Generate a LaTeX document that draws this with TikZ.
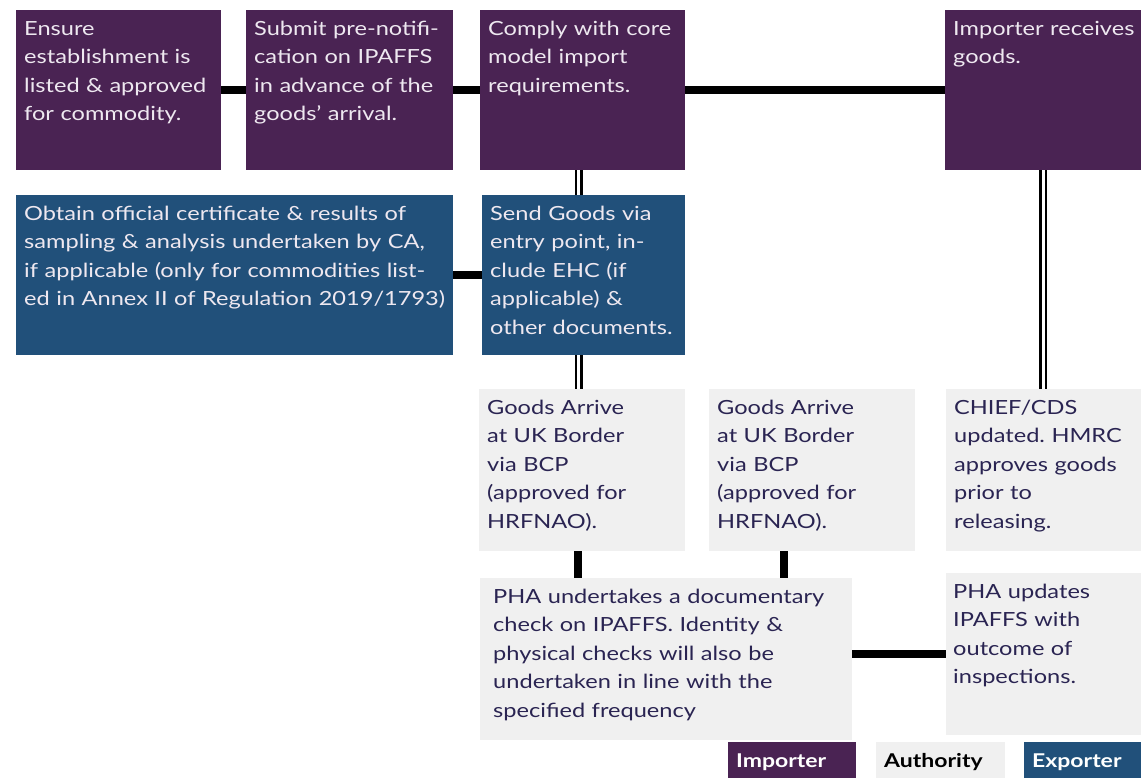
\documentclass[tikz,border=0pt]{standalone}
\usepackage{fontspec}
\setmainfont{Lato}[FakeStretch=1.21]
\frenchspacing
\usetikzlibrary{positioning,calc}
\definecolor{importer}{HTML}{4A2353}
\definecolor{exporter}{HTML}{21507A}
\definecolor{authority}{HTML}{F0F0F0}
\definecolor{lighttext}{HTML}{EEE8F0}
\definecolor{darktext}{HTML}{2A2452}
\tikzset{
	stepbox/.style={anchor=north west, inner xsep=8pt, inner ysep=0pt, align=left, text height=25pt, font=\fontsize{19.5}{28.5}\selectfont},
	impbox/.style={stepbox, fill=importer, text=lighttext},
	expbox/.style={stepbox, fill=exporter, text=lighttext},
	autbox/.style={stepbox, fill=authority, text=darktext},
	link/.style={line width=7.5pt, color=black},
	dlink/.style={draw=black, double=white, double distance=3pt, line width=2.5pt},
	keybox/.style={anchor=north west, inner xsep=8pt, inner ysep=0pt, align=left, text height=25pt, text depth=11pt, font=\fontsize{19}{22}\selectfont\bfseries}
}

\begin{document}
\begin{tikzpicture}[x=1pt,y=-1pt]
	\useasboundingbox[fill=white] (0,0) rectangle (1141,778);
	%%%importer row
	\node[impbox, text width=189pt, text depth=135pt] (ensure) at (16,10) {Ensure\\establishment is\\listed \& approved\\for commodity.};
	\node[impbox, text width=191pt, text depth=135pt] (submit) at (246,10) {Submit pre-notifi-\\cation on IPAFFS\\in advance of the\\goods’ arrival.};
	\node[impbox, text width=189pt, text depth=135pt] (comply) at (480,10) {Comply with core\\model import\\requirements.};
	\node[impbox, text width=180pt, text depth=135pt] (receive) at (945,10) {\mbox{Importer receives}\\goods.};
	%%%exporter row
	\node[expbox, text width=421pt, text depth=135pt] (obtain) at (16,195) {Obtain official certificate \& results of\\sampling \& analysis undertaken by CA,\\if applicable (only for commodities list-\\ed in Annex II of Regulation 2019/1793)};
	\node[expbox, text width=187pt, text depth=135pt] (send) at (482,195) {Send Goods via\\entry point, in-\\clude EHC (if\\applicable) \&\\other documents.};
	%%%authority rows
	\node[autbox, text width=190pt, text depth=137pt] (arrive1) at (479,389) {Goods Arrive\\at UK Border\\via BCP\\(approved for\\HRFNAO).};
	\node[autbox, text width=190pt, text depth=137pt] (arrive2) at (709,389) {Goods Arrive\\at UK Border\\via BCP\\(approved for\\HRFNAO).};
	\node[autbox, text width=179pt, text depth=137pt] (chief) at (946,389) {CHIEF/CDS\\updated. HMRC\\approves goods\\prior to\\releasing.};
	\node[autbox, inner xsep=13pt, text width=346pt, text depth=137pt] (check) at (480,578) {PHA undertakes a documentary\\check on IPAFFS. Identity \&\\physical checks will also be\\undertaken in line with the\\specified frequency};
	\node[autbox, inner xsep=7pt, text width=181pt, text depth=137pt] (update) at (946,573) {PHA updates\\IPAFFS with\\outcome of\\inspections.};
	%%%key
	\node[keybox, fill=importer, text=white, text width=112pt] (keyimp) at (728,742) {Importer};
	\node[keybox, fill=authority, text=black, text width=113pt] (keyaut) at (876,742) {Authority};
	\node[keybox, fill=exporter, text=white, text width=101pt] (keyexp) at (1024,742) {Exporter};
	%%%links
	\draw[link] (ensure) -- (submit);
	\draw[link] (submit) -- (comply);
	\draw[link] (comply) -- (receive);
	\draw[link] (obtain) -- (send);
	\draw[dlink] ([xshift=-4pt]comply.south) -- ([xshift=-4pt]comply.south |- send.north);
	\draw[dlink] ([xshift=-5pt]send.south) -- ([xshift=-5pt]send.south |- arrive1.north);
	\draw[dlink] (receive.south) -- (receive.south |- chief.north);
	\draw[link] ([xshift=-4pt]arrive1.south) -- ([xshift=-4pt]arrive1.south |- check.north);
	\draw[link] ([xshift=-28pt]arrive2.south) -- ([xshift=-28pt]arrive2.south |- check.north);
	\draw[link] (check.east |- update.west) -- (update.west);
\end{tikzpicture}
\end{document}
